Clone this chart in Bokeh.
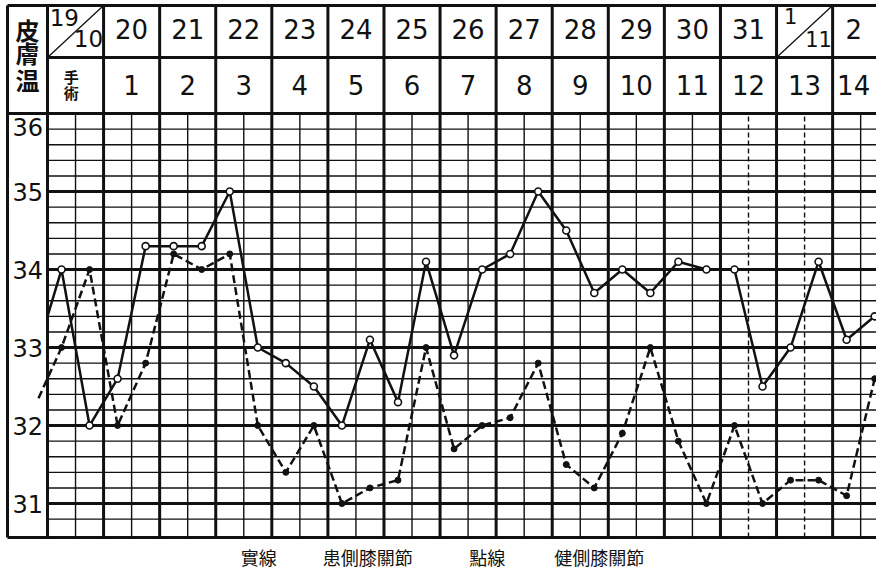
import numpy as np
from bokeh.plotting import figure
from bokeh.models import Range1d
from bokeh.core.properties import value
from bokeh.embed import file_html
from bokeh.resources import INLINE

# ---- data ----
date_labels = ["", "20", "21", "22", "23", "24", "25", "26", "27", "28", "29", "30", "31", "", "2"]
postop_labels = ["手術", "1", "2", "3", "4", "5", "6", "7", "8", "9", "10", "11", "12", "13", "14"]
y_ticks = [36, 35, 34, 33, 32, 31]
legend_labels = ["實線", "患側膝關節", "點線", "健側膝關節"]

# affected knee (solid), two readings per day
affected = [34.0, 32.0, 32.6, 34.3, 34.3, 34.3, 35.0, 33.0, 32.8, 32.5,
            32.0, 33.1, 32.3, 34.1, 32.9, 34.0, 34.2, 35.0, 34.5, 33.7,
            34.0, 33.7, 34.1, 34.0, 34.0, 32.5, 33.0, 34.1, 33.1, 33.4]
# healthy knee (dotted)
healthy = [33.0, 34.0, 32.0, 32.8, 34.2, 34.0, 34.2, 32.0, 31.4, 32.0,
           31.0, 31.2, 31.3, 33.0, 31.7, 32.0, 32.1, 32.8, 31.5, 31.2,
           31.9, 33.0, 31.8, 31.0, 32.0, 31.0, 31.3, 31.3, 31.1, 32.6]
affected_lead = (0.0, 33.4)     # where the solid line enters the chart
healthy_lead = (-0.32, 32.35)   # where the dotted line enters

# ---- layout constants (data units: x = half-day cells, y = deg C) ----
X0, X1 = -1.676, 29.565
Y0, Y1 = 30.103, 37.449
LEFT = -1.426
TOP = 37.385
ROW = 36.718
BOTTOM = 30.564
INK = "#111111"
NUM_FONT = value("DejaVu Sans")
CJK_FONT = value("Noto Sans CJK JP")

p = figure(width=876, height=573, x_range=Range1d(X0, X1), y_range=Range1d(Y0, Y1),
           output_backend="svg", toolbar_location=None, x_axis_type=None,
           y_axis_type=None, min_border=0, title=None)
p.outline_line_color = None
p.background_fill_color = "white"
p.border_fill_color = "white"

ncols = len(date_labels)
XEND = 2 * ncols + 1

# horizontal grid
minor = [round(v, 1) for v in np.arange(30.8, 36.0, 0.2) if abs(v - round(v)) > 1e-6]
p.segment(x0=[0] * len(minor), y0=minor, x1=[XEND] * len(minor), y1=minor,
          line_color=INK, line_width=1.4)
major = [t for t in y_ticks if t != 36]
p.segment(x0=[0] * len(major), y0=major, x1=[XEND] * len(major), y1=major,
          line_color=INK, line_width=3)
p.segment(x0=[LEFT, LEFT, LEFT, 0], y0=[TOP, 36, BOTTOM, ROW],
          x1=[XEND] * 4, y1=[TOP, 36, BOTTOM, ROW], line_color=INK, line_width=3)

# vertical grid
bounds = [2 * c for c in range(ncols)]
p.segment(x0=bounds + [LEFT], y0=[BOTTOM] * (ncols + 1), x1=bounds + [LEFT],
          y1=[TOP] * (ncols + 1), line_color=INK, line_width=3)
mids = [2 * c + 1 for c in range(ncols)]
dashed_mids = [25, 27]
solid_mids = [m for m in mids if m not in dashed_mids]
p.segment(x0=solid_mids, y0=[BOTTOM] * len(solid_mids), x1=solid_mids, y1=[36] * len(solid_mids),
          line_color=INK, line_width=1.4)
p.segment(x0=dashed_mids, y0=[BOTTOM] * 2, x1=dashed_mids, y1=[36] * 2,
          line_color=INK, line_width=1.4, line_dash="5 3")

# diagonal split cells
diag_cols = [i for i, d in enumerate(date_labels) if d == ""]
p.segment(x0=[2 * c for c in diag_cols], y0=[ROW] * len(diag_cols),
          x1=[2 * c + 2 for c in diag_cols], y1=[TOP] * len(diag_cols),
          line_color=INK, line_width=1.3)

# data lines
xs = [k + 0.5 for k in range(len(affected))]
p.line([affected_lead[0]] + xs, [affected_lead[1]] + affected, line_color=INK, line_width=2.5)
p.line([healthy_lead[0]] + xs, [healthy_lead[1]] + healthy, line_color=INK, line_width=2.5,
       line_dash="8 4")
p.scatter(xs, healthy, size=6, fill_color=INK, line_color=INK)
p.scatter(xs, affected, size=7, fill_color="white", line_color=INK, line_width=1.6)

# header texts (last column is cut by the page edge: labels nudged left to stay visible)
row1_y = 37.09
row2_y = 36.36
def col_center(c):
    return 2 * c + 1 if c < ncols - 1 else 2 * c + 0.75

cx = [col_center(c) for c in range(ncols) if date_labels[c] != ""]
p.text(x=cx, y=[row1_y] * len(cx), text=[d for d in date_labels if d != ""],
       text_font=NUM_FONT, text_font_size="26px", text_align="center",
       text_baseline="middle", text_color=INK)
cx2 = [col_center(c) for c in range(1, ncols)]
p.text(x=cx2, y=[row2_y] * len(cx2), text=postop_labels[1:],
       text_font=NUM_FONT, text_font_size="26px", text_align="center",
       text_baseline="middle", text_color=INK)
# 手術 stacked
p.text(x=[0.85, 0.85], y=[36.474, 36.27], text=list(postop_labels[0]),
       text_font=CJK_FONT, text_font_size="15px", text_align="center",
       text_baseline="middle", text_color=INK, text_font_style="bold")
# split cells: 19/10 and 1/11
p.text(x=[0.6, 1.46], y=[37.23, 36.96], text=["19", "10"], text_font=NUM_FONT,
       text_font_size="23px", text_align="center", text_baseline="middle", text_color=INK)
p.text(x=[26.5, 27.5], y=[37.25, 36.96], text=["1", "11"], text_font=NUM_FONT,
       text_font_size="21px", text_align="center", text_baseline="middle", text_color=INK)
# 皮膚温 vertical
p.text(x=[-0.71] * 3, y=[37.077, 36.782, 36.436], text=list("皮膚温"), text_font=CJK_FONT,
       text_font_size="24px", text_align="center", text_baseline="middle",
       text_color=INK, text_font_style="bold")

# y tick labels
ty = [t - 0.17 if t == 36 else t for t in y_ticks]
p.text(x=[-1.25] * len(y_ticks), y=ty, text=[str(t) for t in y_ticks], text_font=NUM_FONT,
       text_font_size="24px", text_align="left", text_baseline="middle", text_color=INK)

# legend
p.text(x=[6.89, 9.82, 15.04, 18.07], y=[30.32] * 4, text=legend_labels, text_font=CJK_FONT,
       text_font_size="18px", text_align="left", text_baseline="middle", text_color=INK)

open("out.html", "w").write(file_html(p, INLINE))
